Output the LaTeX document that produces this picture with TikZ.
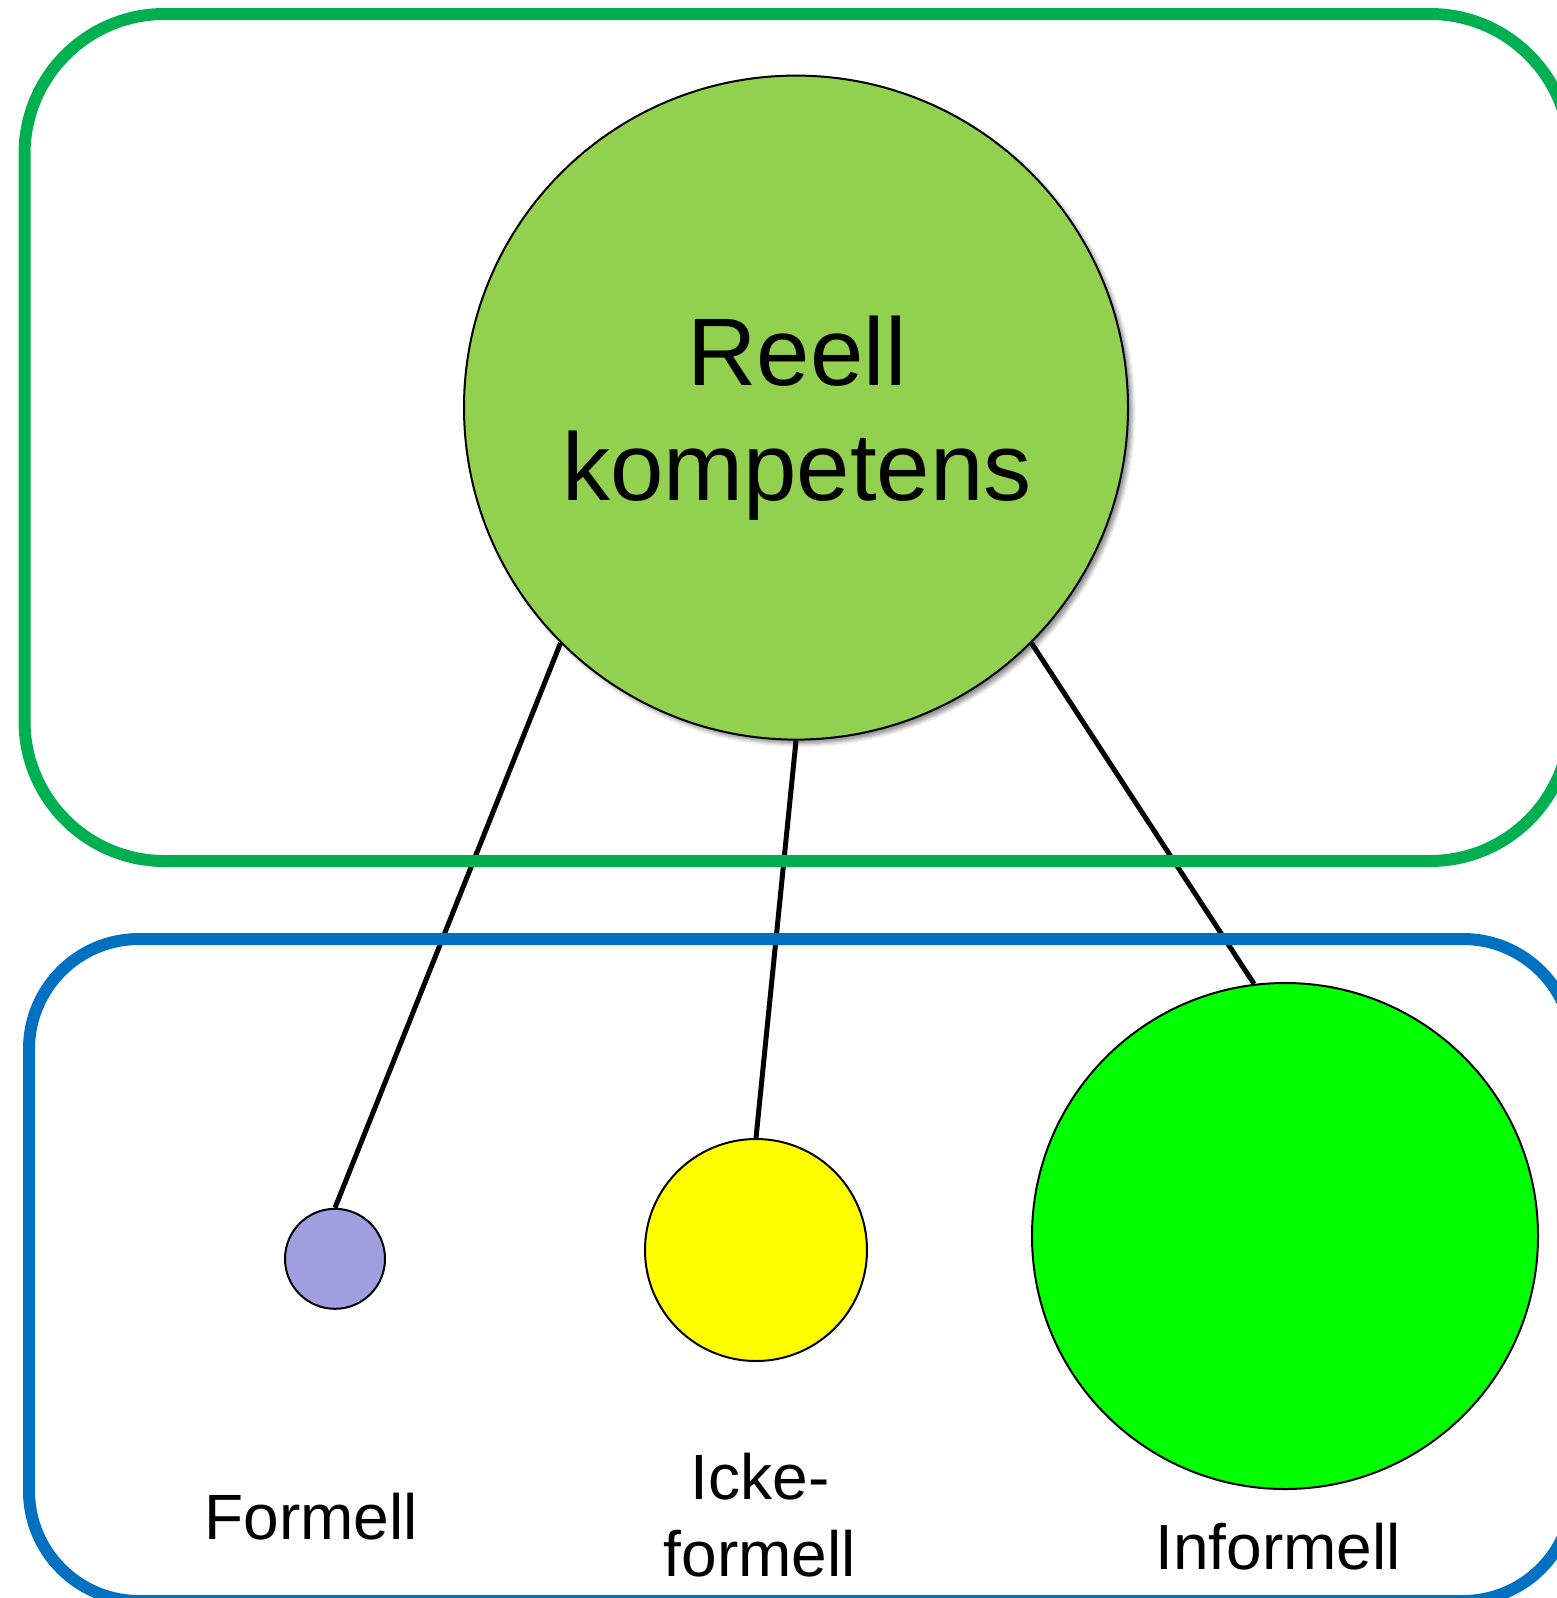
\documentclass[tikz,border=0pt]{standalone}
\usepackage{fontspec}
\setmainfont{Liberation Sans}
\usetikzlibrary{shadows.blur}
\definecolor{boxgreen}{HTML}{00B050}
\definecolor{boxblue}{HTML}{0070C0}
\definecolor{biggreen}{HTML}{92D050}
\definecolor{lav}{HTML}{9F9FDF}
\definecolor{brightgreen}{HTML}{00FF00}
\definecolor{yel}{HTML}{FFFF00}
\tikzset{
  groupbox/.style={line width=12pt},
  disc/.style={circle, draw=black, line width=2pt, inner sep=0pt},
  link/.style={draw=black, line width=5pt},
  bigtext/.style={font=\fontsize{96}{115}\selectfont, align=center, inner sep=0pt},
  smalltext/.style={font=\fontsize{64}{77}\selectfont, align=center, inner sep=0pt},
}
\begin{document}
\begin{tikzpicture}[x=1pt,y=-1pt]
\useasboundingbox (0,0) rectangle (1557,1598);
\clip (0,0) rectangle (1557,1598);
% circles
\node[disc, fill=biggreen, minimum size=664pt,
  blur shadow={shadow xshift=4pt, shadow yshift=-4pt, shadow blur radius=4pt, shadow opacity=45}]
  (rk) at (796,407.6) {};
\node[bigtext] (rklabel) at (797,418) {Reell\\kompetens};
\node[disc, fill=lav, minimum size=100pt] (formell) at (335,1258.8) {};
\node[disc, fill=yel, minimum size=222pt] (icke) at (756,1250) {};
\node[disc, fill=brightgreen, minimum size=506pt] (inform) at (1285,1236) {};
% connectors
\draw[link] (rk.225) -- (formell.north);
\draw[link] (rk.south) -- (icke.north);
\draw[link] (rk.-45) -- (inform.97.5);
% group boxes
\draw[groupbox, draw=boxgreen, rounded corners=140pt] (24.5,14) rectangle (1570,861);
\draw[groupbox, draw=boxblue, rounded corners=110pt] (29,939) rectangle (1573,1601);
% labels
\node[smalltext, anchor=base] (lformell) at (311,1539) {Formell};
\node[smalltext] (licke) at (760,1515.5) {Icke-\\formell};
\node[smalltext, anchor=base] (linform) at (1278,1569) {Informell};
\end{tikzpicture}
\end{document}
